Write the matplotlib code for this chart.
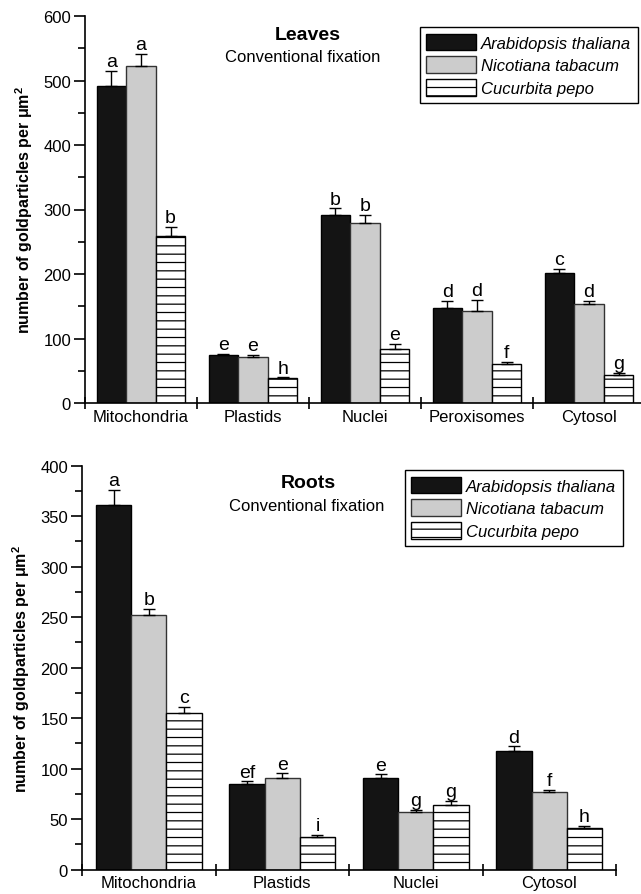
import numpy as np
import matplotlib
matplotlib.use("Agg")
import matplotlib.pyplot as plt
from matplotlib.patches import Patch
from matplotlib.ticker import MultipleLocator

plt.rcParams["font.family"] = ["Liberation Sans", "DejaVu Sans"]
plt.rcParams["hatch.linewidth"] = 0.9

# --- data ---
species = ["Arabidopsis thaliana", "Nicotiana tabacum", "Cucurbita pepo"]

leaf_cats = ["Mitochondria", "Plastids", "Nuclei", "Peroxisomes", "Cytosol"]
leaf_arab = [491, 74, 291, 148, 201]
leaf_nico = [523, 72, 279, 143, 153]
leaf_cucu = [259, 38, 84, 60, 44]
leaf_arab_err = [24, 2, 11, 10, 7]
leaf_nico_err = [18, 3, 13, 17, 5]
leaf_cucu_err = [14, 2, 8, 4, 3]
leaf_arab_let = ["a", "e", "b", "d", "c"]
leaf_nico_let = ["a", "e", "b", "d", "d"]
leaf_cucu_let = ["b", "h", "e", "f", "g"]

root_cats = ["Mitochondria", "Plastids", "Nuclei", "Cytosol"]
root_arab = [361, 84.5, 90.5, 118]
root_nico = [252, 90.5, 57.5, 77]
root_cucu = [155, 32.5, 64.5, 41.5]
root_arab_err = [15, 3, 4, 4]
root_nico_err = [6, 5, 2, 2]
root_cucu_err = [6, 2, 4, 2]
root_arab_let = ["a", "ef", "e", "d"]
root_nico_let = ["b", "e", "g", "f"]
root_cucu_let = ["c", "i", "g", "h"]

faces = ["#141414", "#cccccc", "white"]
edges = ["black", "#333333", "black"]
hatches = [None, None, "--"]

fig = plt.figure(figsize=(6.41, 8.95), dpi=100)


def panel(rect, cats, vals, errs, lets, ymax, major, minor, legend_anchor):
    ax = fig.add_axes(rect)
    n = len(cats)
    w = 0.264
    centers = np.arange(n) + 0.5
    for j in range(3):
        x = centers + (j - 1) * w
        ax.bar(x, vals[j], width=w, color=faces[j], edgecolor=edges[j],
               linewidth=1.0, hatch=hatches[j], zorder=2)
        ax.errorbar(x, vals[j], yerr=[np.zeros(n), errs[j]], fmt="none",
                    ecolor="black", elinewidth=1.0, capsize=4, capthick=1.0, zorder=3)
        for xi, v, e, t in zip(x, vals[j], errs[j], lets[j]):
            ax.annotate(t, (xi, v + e), xytext=(0, 0.5), textcoords="offset points",
                        ha="center", va="bottom", fontsize=14)
    ax.set_xlim(0, n)
    ax.set_ylim(0, ymax)
    ax.spines["top"].set_visible(False)
    ax.spines["right"].set_visible(False)
    for s in ["left", "bottom"]:
        ax.spines[s].set_linewidth(1.2)
    ax.set_xticks(np.arange(n + 1))
    ax.set_xticklabels([])
    ax.set_xticks(centers, minor=True)
    ax.set_xticklabels(cats, minor=True, fontsize=12)
    ax.tick_params(axis="x", which="major", direction="inout", length=9, width=1.2)
    ax.tick_params(axis="x", which="minor", length=0, pad=4)
    ax.yaxis.set_major_locator(MultipleLocator(major))
    ax.yaxis.set_minor_locator(MultipleLocator(minor))
    ax.tick_params(axis="y", which="major", direction="out", length=8, width=1.2,
                   labelsize=12, pad=2)
    ax.tick_params(axis="y", which="minor", direction="out", length=5, width=1.2)
    ax.set_ylabel("number of goldparticles per $\\mathregular{\\mu m^2}$",
                  fontsize=11.5, fontweight="bold", labelpad=6)
    handles = [Patch(facecolor=faces[j], edgecolor=edges[j], hatch=hatches[j], linewidth=1.0)
               for j in range(3)]
    fig.legend(handles, species, loc="upper right", bbox_to_anchor=legend_anchor,
               bbox_transform=fig.transFigure, borderaxespad=0, fancybox=False,
               edgecolor="black", framealpha=1, prop={"style": "italic", "size": 12},
               handlelength=3.0, handleheight=1.15, labelspacing=0.35,
               handletextpad=0.3, borderpad=0.4).get_frame().set_linewidth(1.0)
    return ax


ax1 = panel([85 / 641, 1 - 404 / 895, 560 / 641, 387 / 895], leaf_cats,
            [leaf_arab, leaf_nico, leaf_cucu],
            [leaf_arab_err, leaf_nico_err, leaf_cucu_err],
            [leaf_arab_let, leaf_nico_let, leaf_cucu_let],
            600, 100, 50, (638 / 641, 1 - 28 / 895))
fig.text(308 / 641, 1 - 35 / 895, "Leaves", ha="center", va="center",
         fontsize=14, fontweight="bold")
fig.text(303 / 641, 1 - 57 / 895, "Conventional fixation", ha="center", va="center",
         fontsize=12)

ax2 = panel([82 / 641, 1 - 870.7 / 895, 534 / 641, 404 / 895], root_cats,
            [root_arab, root_nico, root_cucu],
            [root_arab_err, root_nico_err, root_cucu_err],
            [root_arab_let, root_nico_let, root_cucu_let],
            400, 50, 25, (623 / 641, 1 - 471 / 895))
fig.text(308 / 641, 1 - 483 / 895, "Roots", ha="center", va="center",
         fontsize=14, fontweight="bold")
fig.text(307 / 641, 1 - 507 / 895, "Conventional fixation", ha="center", va="center",
         fontsize=12)

fig.savefig("out.png", dpi=100)
